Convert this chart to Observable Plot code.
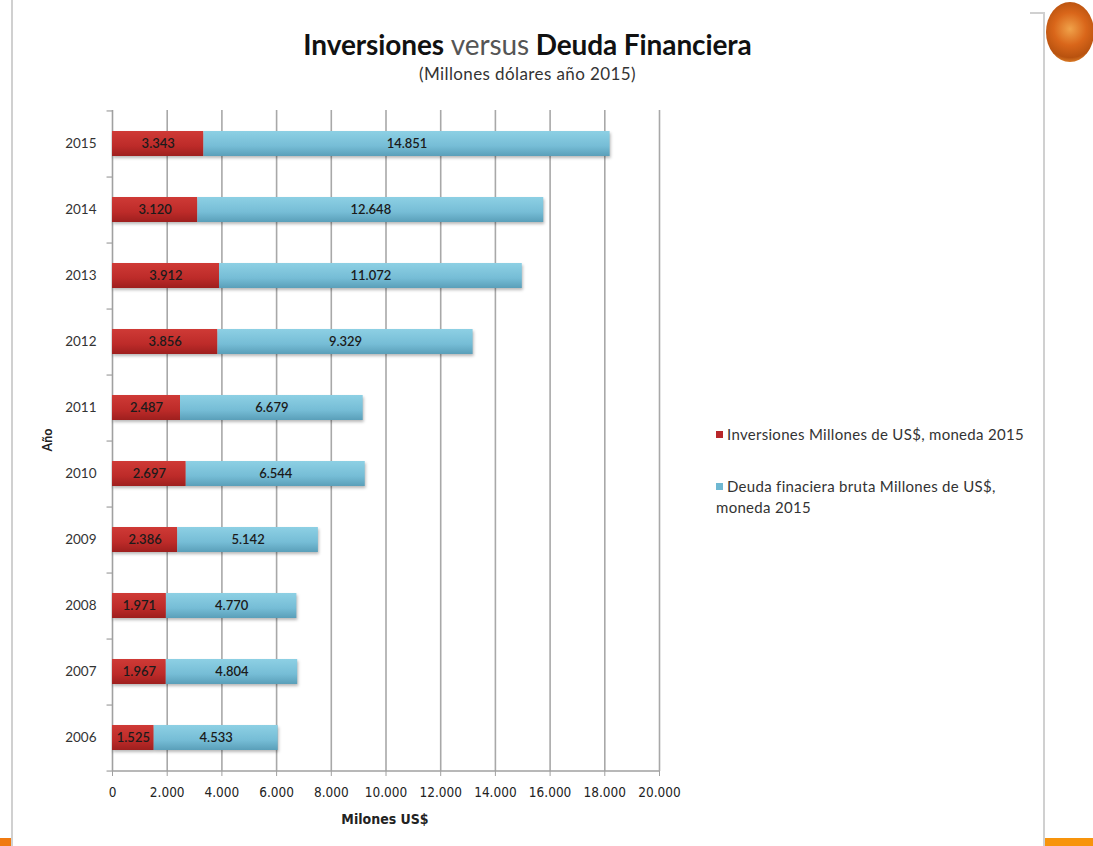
<!DOCTYPE html>
<html>
<head>
<meta charset="utf-8">
<script src="https://cdn.jsdelivr.net/npm/d3@7"></script>
<script src="https://cdn.jsdelivr.net/npm/@observablehq/plot@0.6"></script>
<style>
  html, body { margin: 0; padding: 0; background: #fff; }
  #page { position: relative; width: 1093px; height: 846px; overflow: hidden; font-family: Lato, "Open Sans", sans-serif; }
  #title { position: absolute; left: 0; width: 1055px; top: 27px; text-align: center; font-size: 28px; font-weight: 700; color: #111; letter-spacing: -0.1px; }
  #title .light { font-weight: 400; color: #555; }
  #subtitle { position: absolute; left: 0; width: 1055px; top: 63px; text-align: center; font-size: 17px; color: #333; letter-spacing: 0.4px; }
  #chart { position: absolute; left: 0; top: 100px; }
  #ylabel { position: absolute; left: 47px; top: 440px; transform: translate(-50%, -50%) rotate(-90deg); font-size: 12.5px; font-weight: 700; color: #222; }
  #xlabel { position: absolute; left: 385px; top: 811px; transform: translateX(-50%); font-size: 14px; font-weight: 700; color: #222; font-family: "Liberation Sans Narrow", "DejaVu Sans Condensed", sans-serif; }
  .leg { position: absolute; left: 716px; font-size: 15px; color: #333; line-height: 21px; letter-spacing: 0.3px; }
  .leg .sw { display: inline-block; width: 7px; height: 7px; margin-right: 4px; vertical-align: 2px; }
  #borderL { position: absolute; left: 11px; top: 0; width: 2px; height: 846px; background: #d0d0d0; }
  #borderR { position: absolute; left: 1043px; top: 12px; width: 2px; height: 834px; background: #d0d0d0; }
  #borderT { position: absolute; left: 1030px; top: 12px; width: 14px; height: 2px; background: #d0d0d0; }
  #orangeL { position: absolute; left: 0; top: 838px; width: 11px; height: 8px; background: #f07a10; }
  #orangeR { position: absolute; left: 1045px; top: 838px; width: 48px; height: 8px; background: #f7940c; }
  #logo { position: absolute; left: 1046px; top: 2px; width: 48px; height: 60px; border-radius: 50%;
          background: radial-gradient(circle at 50% 45%, #f0a24a 0%, #d9661a 40%, #b8520f 70%, #e5892e 85%, #f3b070 100%); }
  g[aria-label="bar"] { filter: drop-shadow(1px 2px 1.5px rgba(0,0,0,0.28)); }
</style>
</head>
<body>
<div id="page">
  <div id="borderL"></div><div id="borderR"></div><div id="borderT"></div>
  <div id="orangeL"></div><div id="orangeR"></div>
  <div id="logo"></div>
  <div id="title">Inversiones <span class="light">versus</span> Deuda Financiera</div>
  <div id="subtitle">(Millones dólares año 2015)</div>
  <div id="chart"></div>
  <div id="ylabel">Año</div>
  <div id="xlabel">Milones US$</div>
  <div class="leg" style="top:424px"><span class="sw" style="background:#b8272a"></span>Inversiones Millones de US$, moneda 2015</div>
  <div class="leg" style="top:476px"><span class="sw" style="background:#6fb8d2"></span>Deuda finaciera bruta Millones de US$,<br>moneda 2015</div>
</div>
<script>
// ---- data ----
const years = ["2006", "2007", "2008", "2009", "2010", "2011", "2012", "2013", "2014", "2015"];
const inversiones = [1525, 1967, 1971, 2386, 2697, 2487, 3856, 3912, 3120, 3343];
const deuda = [4533, 4804, 4770, 5142, 6544, 6679, 9329, 11072, 12648, 14851];
const seriesNames = ["Inversiones Millones de US$, moneda 2015", "Deuda finaciera bruta Millones de US$, moneda 2015"];
const xTicks = [0, 2000, 4000, 6000, 8000, 10000, 12000, 14000, 16000, 18000, 20000];

const long = years.flatMap((y, i) => [
  {year: y, series: seriesNames[0], value: inversiones[i]},
  {year: y, series: seriesNames[1], value: deuda[i]}
]);

const fmt = d => d3.format(",")(d).replace(/,/g, ".");
const fillFor = d => d.series === seriesNames[0] ? "url(#gRed)" : "url(#gBlue)";

const H = 736, MT = 10, MB = 65;
const step = (H - MT - MB) / years.length;

const plot = Plot.plot({
  width: 700,
  height: H,
  marginLeft: 112,
  marginRight: 41,
  marginTop: MT,
  marginBottom: MB,
  style: {fontFamily: "Lato, sans-serif", fontSize: "12px", color: "#333", background: "transparent", overflow: "visible"},
  x: {domain: [0, 20000]},
  y: {domain: years.slice().reverse(), paddingInner: 0.62, paddingOuter: 0.31, label: null},
  color: {type: "identity"},
  marks: [
    Plot.gridX(xTicks.slice(1), {stroke: "#a8a8a8", strokeOpacity: 1, strokeWidth: 1.6}),
    Plot.ruleX([0], {stroke: "#a0a0a0", strokeWidth: 1.6}),
    Plot.ruleY([years[0]], {x1: 0, x2: 20000, dy: step / 2, stroke: "#a0a0a0", strokeWidth: 1.6}),
    Plot.ruleY(years, {x1: -200, x2: 0, dy: step / 2, stroke: "#a0a0a0", strokeWidth: 1.2}),
    Plot.ruleY([years[years.length - 1]], {x1: -200, x2: 0, dy: -step / 2, stroke: "#a0a0a0", strokeWidth: 1.2}),
    Plot.axisX(xTicks, {tickSize: 5, tickPadding: 11, tickFormat: fmt, label: null, stroke: "#a0a0a0",
      fontFamily: "'Liberation Sans Narrow', 'DejaVu Sans Condensed', sans-serif", fontSize: 13.5, fill: "#222"}),
    Plot.axisY({tickSize: 0, tickPadding: 16, label: null, fontSize: 13.5, fill: "#333"}),
    Plot.barX(long, Plot.stackX({x: "value", y: "year", z: "series", fill: fillFor})),
    Plot.text(long, Plot.stackX({x: "value", y: "year", z: "series", text: d => fmt(d.value),
      fill: "#1b1b1b", fontSize: 13, fontWeight: 600}))
  ]
});

const defs = d3.select(plot).insert("defs", ":first-child");
const gr = defs.append("linearGradient").attr("id", "gRed").attr("x1", 0).attr("y1", 0).attr("x2", 0).attr("y2", 1);
gr.append("stop").attr("offset", "0%").attr("stop-color", "#cf3a36");
gr.append("stop").attr("offset", "60%").attr("stop-color", "#bd2b29");
gr.append("stop").attr("offset", "100%").attr("stop-color", "#9e1f1e");
const gb = defs.append("linearGradient").attr("id", "gBlue").attr("x1", 0).attr("y1", 0).attr("x2", 0).attr("y2", 1);
gb.append("stop").attr("offset", "0%").attr("stop-color", "#8dd0e4");
gb.append("stop").attr("offset", "60%").attr("stop-color", "#76bdd6");
gb.append("stop").attr("offset", "100%").attr("stop-color", "#5a9fb9");

document.getElementById("chart").appendChild(plot);
</script>
</body>
</html>
